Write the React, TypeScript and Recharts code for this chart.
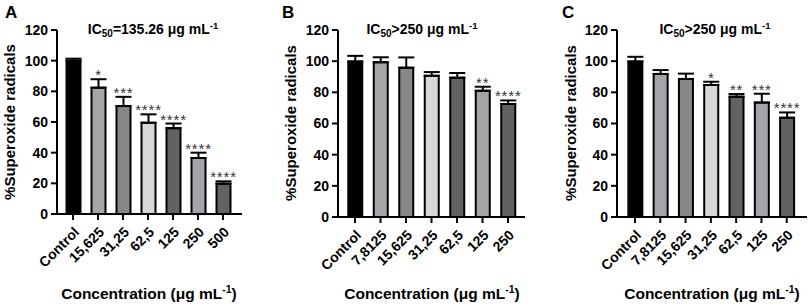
import React from 'react'
import { Bar, BarChart, Cell, ErrorBar, LabelList, XAxis, YAxis } from 'recharts'

const FONT = '"Liberation Sans", Arial, Helvetica, sans-serif'

// same grey sequence in every panel, by bar position
const barFills = ['#000000', '#a4a4a9', '#878787', '#d7d7d7', '#626262', '#a4a4a9', '#626262']
const yTicks = [0, 20, 40, 60, 80, 100, 120]

const categoriesA = ['Control', '15,625', '31,25', '62,5', '125', '250', '500']
const valuesA = [100, 82.4, 70.4, 59.5, 56, 36.5, 19.8]
const errorsA = [1.3, 5.5, 6, 5.5, 3, 3.5, 1.5]
const starsA = ['', '*', '***', '****', '****', '****', '****']

const categoriesB = ['Control', '7,8125', '15,625', '31,25', '62,5', '125', '250']
const valuesB = [99.8, 99.3, 95.8, 90.6, 89.4, 81, 72.5]
const errorsB = [3.6, 3.2, 6.6, 2.4, 3, 2.6, 2.3]
const starsB = ['', '', '', '', '', '**', '****']

const categoriesC = ['Control', '7,8125', '15,625', '31,25', '62,5', '125', '250']
const valuesC = [99.8, 91.8, 88.6, 84.7, 77.2, 73.4, 63.7]
const errorsC = [3, 2.5, 3.4, 2.1, 1.7, 5.7, 3.4]
const starsC = ['', '', '', '*', '**', '***', '****']

type Row = { name: string; value: number; err: number; stars: string }

const toRows = (names: string[], values: number[], errs: number[], stars: string[]): Row[] =>
  names.map((name, i) => ({ name, value: values[i], err: errs[i], stars: stars[i] }))

interface PanelProps {
  letter: string
  ic50: string
  rows: Row[]
  width: number
  yAxisWidth: number
  marginRight: number
  xAxisHeight: number
  padding: { left: number; right: number }
  letterX: number
  titleX: number
  yLabelX: number
  yLabelY: number
  xTitleX: number
}

const Panel = (p: PanelProps) => {
  const starLabel = (props: any) => {
    const { x, y, width, height, index } = props
    const row = p.rows[index]
    if (!row || !row.stars) return null
    const errTop = y - row.err * (height / row.value)
    return (
      <text
        x={x + width / 2}
        y={errTop + 1}
        textAnchor="middle"
        fontSize={15}
        letterSpacing={0.8}
        fill="#333"
        fontFamily={FONT}
      >
        {row.stars}
      </text>
    )
  }

  const panelText = () => (
    <g fontFamily={FONT} fontWeight="bold" fill="#000">
      <text x={p.letterX} y={18} fontSize={17}>
        {p.letter}
      </text>
      <text x={p.titleX} y={34} fontSize={14} textAnchor="middle">
        IC<tspan fontSize={10} dy={3}>50</tspan>
        <tspan dy={-3}>{p.ic50} μg mL</tspan>
        <tspan fontSize={9.5} dy={-5}>-1</tspan>
      </text>
      <text
        x={p.yLabelX}
        y={p.yLabelY}
        fontSize={15}
        textAnchor="middle"
        transform={`rotate(-90 ${p.yLabelX} ${p.yLabelY})`}
      >
        %Superoxide radicals
      </text>
      <text x={p.xTitleX} y={299} fontSize={15.5} textAnchor="middle">
        Concentration (μg mL<tspan fontSize={10.5} dy={-6}>-1</tspan>
        <tspan dy={6}>)</tspan>
      </text>
    </g>
  )

  return (
    <BarChart
      width={p.width}
      height={308}
      data={p.rows}
      margin={{ top: 30, right: p.marginRight, bottom: 0, left: 0 }}
    >
      <XAxis
        dataKey="name"
        interval={0}
        height={p.xAxisHeight}
        padding={p.padding}
        angle={-45}
        textAnchor="end"
        tickSize={6}
        tickMargin={6}
        axisLine={{ stroke: '#000', strokeWidth: 2 }}
        tickLine={{ stroke: '#000', strokeWidth: 2 }}
        tick={{ fill: '#000', fontSize: 14, fontWeight: 'bold', fontFamily: FONT }}
        label={panelText}
      />
      <YAxis
        domain={[0, 120]}
        ticks={yTicks}
        interval={0}
        width={p.yAxisWidth}
        tickSize={6}
        tickMargin={3}
        axisLine={{ stroke: '#000', strokeWidth: 2 }}
        tickLine={{ stroke: '#000', strokeWidth: 2 }}
        tick={{ fill: '#000', fontSize: 14, fontWeight: 'bold', fontFamily: FONT }}
      />
      <Bar dataKey="value" barSize={14} stroke="#000" strokeWidth={2} isAnimationActive={false}>
        {p.rows.map((r, i) => (
          <Cell key={r.name} fill={barFills[i]} />
        ))}
        <ErrorBar
          dataKey={(d: Row) => [0, d.err]}
          width={8}
          stroke="#000"
          strokeWidth={2}
          direction="y"
          isAnimationActive={false}
        />
        <LabelList dataKey="stars" content={starLabel} />
      </Bar>
    </BarChart>
  )
}

export default function App() {
  return (
    <div style={{ position: 'absolute', left: 0, top: 0, width: 809, height: 308, background: '#fff' }}>
      <div style={{ position: 'absolute', left: 0, top: 0 }}>
        <Panel
          letter="A"
          ic50="=135.26"
          rows={toRows(categoriesA, valuesA, errorsA, starsA)}
          width={270}
          yAxisWidth={57}
          marginRight={28}
          xAxisHeight={94}
          padding={{ left: 3.5, right: 6.5 }}
          letterX={5}
          titleX={153}
          yLabelX={15}
          yLabelY={122}
          xTitleX={149}
        />
      </div>
      <div style={{ position: 'absolute', left: 270, top: 0 }}>
        <Panel
          letter="B"
          ic50=">250"
          rows={toRows(categoriesB, valuesB, errorsB, starsB)}
          width={270}
          yAxisWidth={68}
          marginRight={15}
          xAxisHeight={91}
          padding={{ left: 4.25, right: 4.25 }}
          letterX={12}
          titleX={152}
          yLabelX={26}
          yLabelY={123}
          xTitleX={162}
        />
      </div>
      <div style={{ position: 'absolute', left: 540, top: 0 }}>
        <Panel
          letter="C"
          ic50=">250"
          rows={toRows(categoriesC, valuesC, errorsC, starsC)}
          width={269}
          yAxisWidth={77}
          marginRight={2}
          xAxisHeight={91}
          padding={{ left: 5.35, right: 7.6 }}
          letterX={22}
          titleX={175}
          yLabelX={36}
          yLabelY={123}
          xTitleX={172}
        />
      </div>
    </div>
  )
}
